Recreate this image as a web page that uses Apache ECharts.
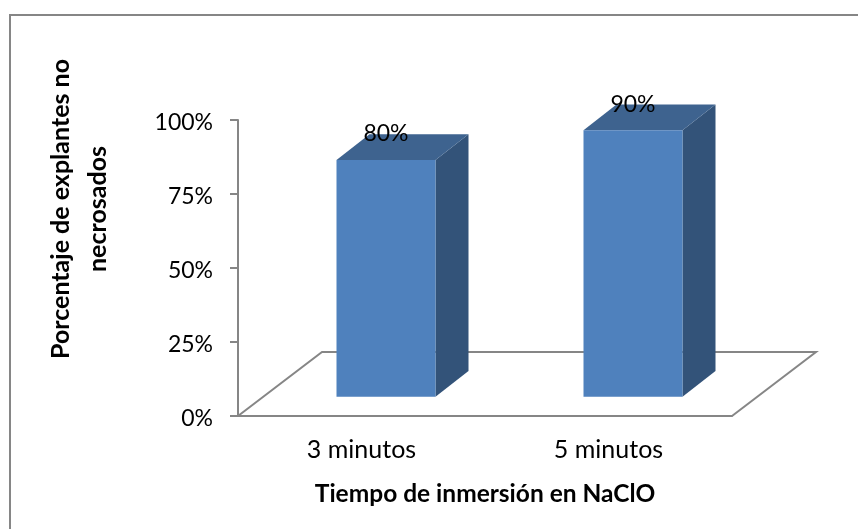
<!DOCTYPE html>
<html>
<head>
<meta charset="utf-8">
<style>html,body{margin:0;padding:0;background:#fff}#c{width:858px;height:529px}</style>
<script src="https://cdn.jsdelivr.net/npm/echarts@6/dist/echarts.min.js"></script>
</head>
<body>
<div id="c"></div>
<script>
// Explant survival by NaClO immersion time
const categories = ['3 minutos', '5 minutos'];
const values = [80, 90];
const yTicks = [0, 25, 50, 75, 100];
const xTitle = 'Tiempo de inmersión en NaClO';
const yTitle = 'Porcentaje de explantes no\nnecrosados';

const font = 'Lato, "Open Sans", sans-serif';
const grey = '#868686';
const chart = echarts.init(document.getElementById('c'), null, {renderer: 'canvas'});

// Oblique projection of the chart's depth axis, in pixels
const floorDepth = {x: 84, y: -64};
const barDepth = {x: 33, y: -25.7};
const barShift = {x: 24.5, y: -19.3};
const barWidth = 99;

function poly(points, fill) {
  return {type: 'polygon', shape: {points}, style: {fill}, silent: true};
}

function renderBar(params, api) {
  const cat = api.value(0);
  const val = api.value(1);
  const top = api.coord([cat, val]);
  const base = api.coord([cat, 0]);
  const l = top[0] + barShift.x - barWidth / 2;
  const r = l + barWidth;
  const t = top[1] + barShift.y;
  const b = base[1] + barShift.y;
  const dx = barDepth.x, dy = barDepth.y;
  return {
    type: 'group',
    children: [
      poly([[r, t], [r + dx, t + dy], [r + dx, b + dy], [r, b]], '#335379'),
      poly([[l, t], [l + dx, t + dy], [r + dx, t + dy], [r, t]], '#3E638F'),
      poly([[l, t], [r, t], [r, b], [l, b]], '#4F81BD'),
      {
        type: 'text',
        silent: true,
        style: {
          x: l + barWidth / 2,
          y: t - 26,
          text: val + '%',
          fill: '#000',
          fontFamily: font,
          fontSize: 23,
          align: 'center',
          verticalAlign: 'middle'
        }
      }
    ]
  };
}

function renderFloor(params, api) {
  const rect = params.coordSys;
  const x0 = rect.x, x1 = rect.x + rect.width;
  const y0 = rect.y + rect.height;
  return {
    type: 'polyline',
    silent: true,
    shape: {points: [
      [x0, y0],
      [x0 + floorDepth.x, y0 + floorDepth.y],
      [x1 + floorDepth.x, y0 + floorDepth.y],
      [x1, y0]
    ]},
    style: {stroke: grey, lineWidth: 2, fill: null}
  };
}

chart.setOption({
  animation: false,
  backgroundColor: '#fff',
  graphic: [{
    type: 'polyline',
    silent: true,
    shape: {points: [[10, 529], [10, 15], [858, 15]]},
    style: {fill: null, stroke: grey, lineWidth: 2}
  }],
  grid: {left: 238, top: 120, width: 494, height: 296, containLabel: false},
  xAxis: {
    type: 'category',
    data: categories,
    axisLine: {show: true, lineStyle: {color: grey, width: 2}},
    axisTick: {show: false},
    axisLabel: {color: '#000', fontFamily: font, fontSize: 25, margin: 21},
    name: xTitle,
    nameLocation: 'middle',
    nameGap: 66,
    nameTextStyle: {color: '#000', fontFamily: font, fontWeight: 'bold', fontSize: 24.5}
  },
  yAxis: {
    type: 'value',
    min: 0,
    max: 100,
    interval: 25,
    axisLine: {show: true, lineStyle: {color: grey, width: 2}},
    axisTick: {show: true, length: 8, lineStyle: {color: grey, width: 2}},
    splitLine: {show: false},
    axisLabel: {
      margin: 25,
      rich: {
        pct: {color: '#000', fontFamily: font, fontSize: 23, padding: [5, 0, 0, 0]}
      },
      formatter: v => yTicks.includes(v) ? '{pct|' + v + '%}' : ''
    },
    name: yTitle,
    nameLocation: 'middle',
    nameRotate: 90,
    nameGap: 122,
    nameTextStyle: {color: '#000', fontFamily: font, fontWeight: 'bold', fontSize: 25, lineHeight: 37, padding: [0, 0, 0, 118]}
  },
  series: [
    {
      type: 'custom',
      renderItem: renderFloor,
      data: [[0, 0]],
      z: 1,
      silent: true
    },
    {
      type: 'custom',
      renderItem: renderBar,
      data: categories.map((c, i) => [i, values[i]]),
      encode: {x: 0, y: 1},
      z: 2,
      silent: true
    }
  ]
});
</script>
</body>
</html>
